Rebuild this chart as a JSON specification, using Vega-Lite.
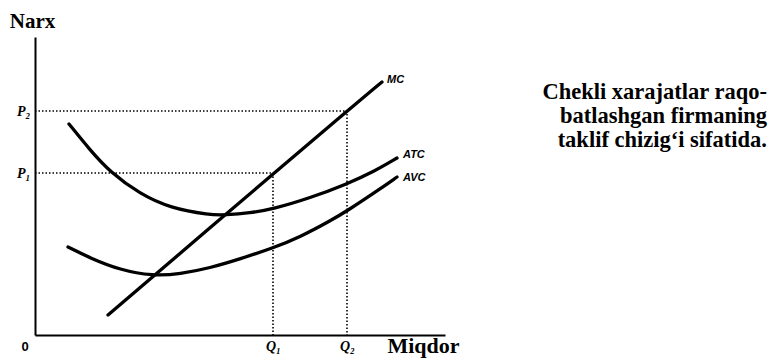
{
  "$schema": "https://vega.github.io/schema/vega-lite/v6.json",
  "autosize": "none",
  "width": 410,
  "height": 298,
  "padding": {"left": 35, "top": 37, "right": 324, "bottom": 24},
  "background": "white",
  "config": {"view": {"stroke": null}},
  "datasets": {
    "curves": [
      {"curve": "MC", "q": 73, "p": 20},
      {"curve": "MC", "q": 238, "p": 161},
      {"curve": "MC", "q": 312, "p": 224},
      {"curve": "MC", "q": 347, "p": 253},
      {"curve": "ATC", "q": 34, "p": 211},
      {"curve": "ATC", "q": 55, "p": 185},
      {"curve": "ATC", "q": 75, "p": 163},
      {"curve": "ATC", "q": 105, "p": 141},
      {"curve": "ATC", "q": 135, "p": 127},
      {"curve": "ATC", "q": 175, "p": 120},
      {"curve": "ATC", "q": 190, "p": 120},
      {"curve": "ATC", "q": 215, "p": 122},
      {"curve": "ATC", "q": 238, "p": 126},
      {"curve": "ATC", "q": 275, "p": 137},
      {"curve": "ATC", "q": 312, "p": 151},
      {"curve": "ATC", "q": 340, "p": 164},
      {"curve": "ATC", "q": 362, "p": 177},
      {"curve": "AVC", "q": 33, "p": 88},
      {"curve": "AVC", "q": 55, "p": 77},
      {"curve": "AVC", "q": 85, "p": 65},
      {"curve": "AVC", "q": 118, "p": 59},
      {"curve": "AVC", "q": 145, "p": 61},
      {"curve": "AVC", "q": 175, "p": 67},
      {"curve": "AVC", "q": 205, "p": 76},
      {"curve": "AVC", "q": 238, "p": 87},
      {"curve": "AVC", "q": 265, "p": 98},
      {"curve": "AVC", "q": 295, "p": 114},
      {"curve": "AVC", "q": 312, "p": 124},
      {"curve": "AVC", "q": 345, "p": 146},
      {"curve": "AVC", "q": 362, "p": 158}
    ],
    "guides": [
      {"guide": "P1", "q": 0, "p": 162, "k": 1},
      {"guide": "P1", "q": 238, "p": 162, "k": 2},
      {"guide": "P1", "q": 238, "p": 0, "k": 3},
      {"guide": "P2", "q": 0, "p": 224, "k": 1},
      {"guide": "P2", "q": 312, "p": 224, "k": 2},
      {"guide": "P2", "q": 312, "p": 0, "k": 3}
    ],
    "curveLabels": [
      {"label": "MC", "q": 352, "p": 255},
      {"label": "ATC", "q": 368, "p": 180},
      {"label": "AVC", "q": 368, "p": 157}
    ],
    "note": [
      {"line": "Chekli xarajatlar raqo-", "q": 732, "p": 236},
      {"line": "batlashgan firmaning", "q": 732, "p": 212},
      {"line": "taklif chizig‘i sifatida.", "q": 732, "p": 188}
    ],
    "origin": [{"label": "0", "q": -10, "p": -12}]
  },
  "layer": [
    {
      "data": {"name": "guides"},
      "mark": {"type": "line", "color": "black", "strokeWidth": 1.6, "strokeDash": [1.5, 2]},
      "encoding": {
        "x": {"field": "q", "type": "quantitative", "scale": {"domain": [0, 410], "nice": false, "zero": false},
          "axis": {"values": [238, 312], "labelExpr": "datum.value == 238 ? 'Q₁' : 'Q₂'", "ticks": false, "grid": false,
            "domainColor": "black", "domainWidth": 2, "labelFont": "Liberation Serif", "labelFontSize": 14, "labelFontWeight": "bold", "labelFontStyle": "italic", "labelColor": "black", "labelPadding": 4,
            "title": "Miqdor", "titleX": 388, "titleY": 17, "titleAlign": "center", "titleBaseline": "alphabetic", "titleFont": "Liberation Serif", "titleFontSize": 22, "titleFontWeight": "bold", "titleColor": "black"}},
        "y": {"field": "p", "type": "quantitative", "scale": {"domain": [0, 298], "nice": false, "zero": false},
          "axis": {"values": [162, 224], "labelExpr": "datum.value == 162 ? 'P₁' : 'P₂'", "ticks": false, "grid": false,
            "domainColor": "black", "domainWidth": 2, "labelFont": "Liberation Serif", "labelFontSize": 14, "labelFontWeight": "bold", "labelFontStyle": "italic", "labelColor": "black", "labelPadding": 5,
            "title": "Narx", "titleAngle": 0, "titleX": -3, "titleY": -10, "titleAlign": "center", "titleBaseline": "alphabetic", "titleFont": "Liberation Serif", "titleFontSize": 21, "titleFontWeight": "bold", "titleColor": "black"}},
        "detail": {"field": "guide"},
        "order": {"field": "k"}
      }
    },
    {
      "data": {"name": "curves"},
      "mark": {"type": "line", "color": "black", "strokeWidth": 3.3, "strokeCap": "round", "interpolate": "basis"},
      "encoding": {
        "x": {"field": "q", "type": "quantitative"},
        "y": {"field": "p", "type": "quantitative"},
        "detail": {"field": "curve"}
      }
    },
    {
      "data": {"name": "curveLabels"},
      "mark": {"type": "text", "align": "left", "baseline": "middle", "font": "Liberation Sans", "fontSize": 11, "fontStyle": "italic", "fontWeight": "bold", "color": "black"},
      "encoding": {
        "x": {"field": "q", "type": "quantitative"},
        "y": {"field": "p", "type": "quantitative"},
        "text": {"field": "label"}
      }
    },
    {
      "data": {"name": "note"},
      "mark": {"type": "text", "align": "right", "baseline": "alphabetic", "font": "Liberation Serif", "fontSize": 22.5, "fontWeight": "bold", "color": "black"},
      "encoding": {
        "x": {"field": "q", "type": "quantitative"},
        "y": {"field": "p", "type": "quantitative"},
        "text": {"field": "line"}
      }
    },
    {
      "data": {"name": "origin"},
      "mark": {"type": "text", "align": "center", "baseline": "middle", "font": "Liberation Sans", "fontSize": 13, "fontWeight": "bold", "color": "black"},
      "encoding": {
        "x": {"field": "q", "type": "quantitative"},
        "y": {"field": "p", "type": "quantitative"},
        "text": {"field": "label"}
      }
    }
  ]
}
